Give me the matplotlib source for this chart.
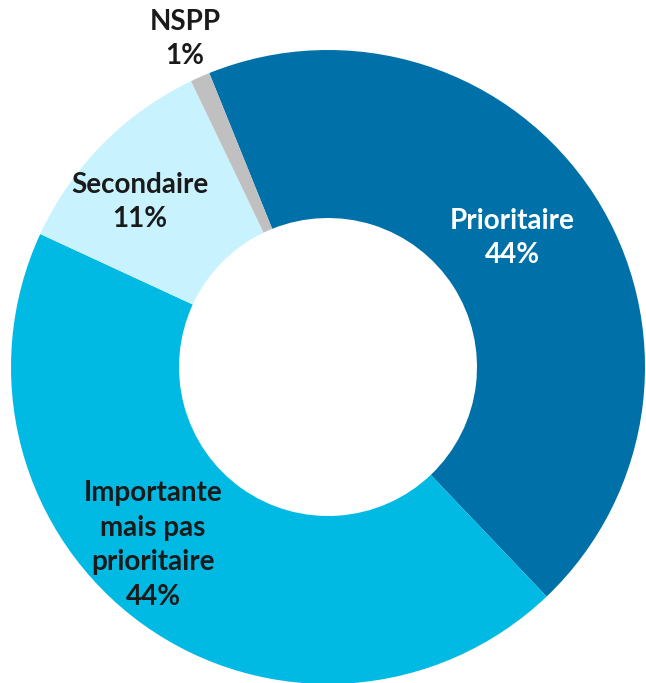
import matplotlib
matplotlib.use("Agg")
import matplotlib.pyplot as plt

# donnees
categories = ['Prioritaire', 'Importante\nmais pas\nprioritaire', 'Secondaire', 'NSPP']
values = [44, 44, 11, 1]
labels = ['Prioritaire\n44%', 'Importante\nmais pas\nprioritaire\n44%', 'Secondaire\n11%', 'NSPP\n1%']
colors = ['#0070A8', '#00BAE4', '#C9F2FF', '#C0C0C0']
text_colors = ['white', '#1a1a1a', '#1a1a1a', '#1a1a1a']

W, H = 646, 683
fig = plt.figure(figsize=(W / 100, H / 100), dpi=100)
ax = fig.add_axes([0, 0, 1, 1])

cx, cy, R = 328, H - 367, 317
wedges, _ = ax.pie(values, colors=colors, startangle=112, counterclock=False,
                   center=(cx, cy), radius=R,
                   wedgeprops=dict(width=R * 0.53, linewidth=0))

# positions des etiquettes (pixels, y vers le bas)
label_pos = [(512, 238), (153, 545), (140, 202), (185, 39)]
for lab, (x, y), c in zip(labels, label_pos, text_colors):
    ax.text(x, H - y, lab, ha='center', va='center', color=c,
            fontsize=20, fontweight='bold', family='Lato', linespacing=1.42)

ax.set_xlim(0, W)
ax.set_ylim(0, H)
ax.set_aspect('equal')
ax.axis('off')

fig.savefig('out.png', dpi=100)
